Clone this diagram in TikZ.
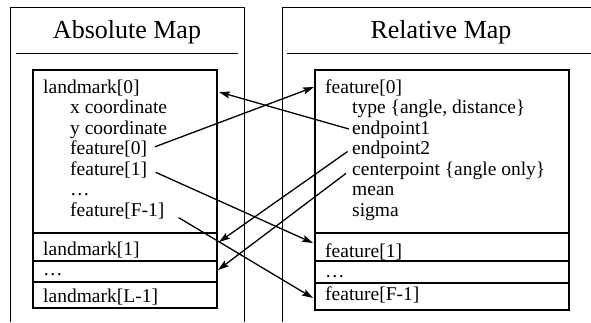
\documentclass[tikz,border=0pt]{standalone}
\usepackage{fontspec}
\setmainfont{Liberation Serif}
\usetikzlibrary{arrows.meta}
\begin{document}
\begin{tikzpicture}[x=1pt,y=-1pt,
  txt/.style={anchor=base west, inner sep=2pt, font=\fontsize{19.5}{21}\selectfont},
  ttl/.style={anchor=base, inner sep=0pt, font=\fontsize{26}{28}\selectfont},
  cell/.style={draw, line width=1.3pt, inner sep=0pt, outer sep=0pt, anchor=north west},
  outer/.style={line width=1pt},
  arr/.style={line width=1.3pt, -{Stealth[length=11pt,width=7pt,inset=2pt]}},
]
\useasboundingbox (0,0) rectangle (591,322);

% outer frames
\draw[outer] (10,322) -- (10,7) -- (244,7) -- (244,322);
\draw[outer] (282,322) -- (282,7) -- (591,7);
\draw[outer] (16,53) -- (238,53);
\draw[outer] (287,53) -- (591,53);

\node[ttl] (tA) at (127,38) {Absolute Map};
\node[ttl] (tR) at (441,38) {Relative Map};

% left cells
\node[cell, minimum width=184pt, minimum height=163pt] (LL0) at (33,70) {};
\node[cell, minimum width=184pt, minimum height=28pt] (LL1) at (33,233) {};
\node[cell, minimum width=184pt, minimum height=21pt] (LL2) at (33,261) {};
\node[cell, minimum width=184pt, minimum height=26pt] (LL3) at (33,282) {};

% right cells
\node[cell, minimum width=254pt, minimum height=163pt] (RF0) at (315,70) {};
\node[cell, minimum width=254pt, minimum height=28pt] (RF1) at (315,233) {};
\node[cell, minimum width=254pt, minimum height=22pt] (RF2) at (315,261) {};
\node[cell, minimum width=254pt, minimum height=27pt] (RF3) at (315,283) {};

% left texts
\node[txt] (lm0) at (41,93) {landmark[0]};
\node[txt] (lx) at (68,113.5) {x coordinate};
\node[txt] (ly) at (68,134) {y coordinate};
\node[txt] (lf0) at (68,154.5) {feature[0]};
\node[txt] (lf1) at (68,175) {feature[1]};
\node[txt] (ld) at (68,195.5) {…};
\node[txt] (lfF) at (68,216) {feature[F-1]};
\node[txt] (lm1) at (41,255) {landmark[1]};
\node[txt] (lmd) at (41,275) {…};
\node[txt] (lmL) at (41,302) {landmark[L-1]};

% right texts
\node[txt] (rf0) at (323,93) {feature[0]};
\node[txt] (rty) at (350,113.5) {type \{angle, distance\}};
\node[txt] (re1) at (350,134) {endpoint1};
\node[txt] (re2) at (350,154.5) {endpoint2};
\node[txt] (rcp) at (350,175) {centerpoint \{angle only\}};
\node[txt] (rmn) at (350,195.5) {mean};
\node[txt] (rsg) at (350,216) {sigma};
\node[txt] (rf1) at (323,257) {feature[1]};
\node[txt] (rfd) at (323,277) {…};
\node[txt] (rfF) at (323,300) {feature[F-1]};

% arrow tips
\coordinate (tL0) at (219,92);
\coordinate (tL1) at (219,242);
\coordinate (tL2) at (218,270);
\coordinate (tR0) at (314,87);
\coordinate (tR1) at (313,243);
\coordinate (tR3) at (313,298);

\draw[arr, shorten <=1pt] (re1.west) -- (tL0);
\draw[arr, shorten <=6pt] (lf0.east) -- (tR0);
\draw[arr, shorten <=7pt] (lf1.east) -- (tR1);
\draw[arr, shorten <=14pt] (lfF.east) -- (tR3);
\draw[arr, shorten <=3pt] (re2.west) -- (tL1);
\draw[arr, shorten <=5pt] (rcp.west) -- (tL2);
\end{tikzpicture}
\end{document}
